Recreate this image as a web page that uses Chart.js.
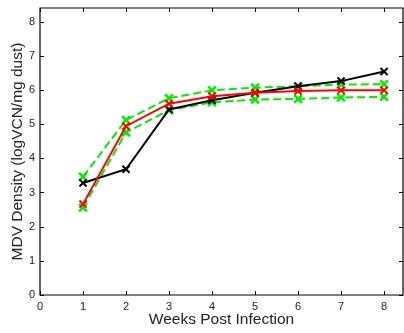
<!DOCTYPE html>
<html>
<head>
<meta charset="utf-8">
<script src="https://cdn.jsdelivr.net/npm/chart.js@4.4.1/dist/chart.umd.min.js"></script>
<style>
  html, body { margin: 0; padding: 0; background: #fff; }
  #wrap { width: 404px; height: 333px; }
</style>
</head>
<body>
<div id="wrap"><canvas id="mdvChart" width="404" height="333"></canvas></div>
<script>
// weeks post infection
var weeks = [1, 2, 3, 4, 5, 6, 7, 8];
// measured MDV density (black)
var observed = [3.28, 3.68, 5.43, 5.70, 5.92, 6.11, 6.26, 6.54];
// model fit (red)
var fitted = [2.66, 4.94, 5.60, 5.82, 5.92, 5.97, 5.99, 5.99];
// confidence bounds (green dashed)
var upperBound = [3.46, 5.12, 5.76, 5.99, 6.07, 6.11, 6.16, 6.17];
var lowerBound = [2.56, 4.76, 5.41, 5.64, 5.72, 5.74, 5.78, 5.80];
var xTicks = [0, 1, 2, 3, 4, 5, 6, 7, 8];
var yTicks = [0, 1, 2, 3, 4, 5, 6, 7, 8];

function toPoints(ys) {
    return weeks.map(function (w, i) { return { x: w, y: ys[i] }; });
}

Chart.defaults.font.family = "'Liberation Sans', Arial, sans-serif";
Chart.defaults.color = '#222';

// MATLAB style box with inward ticks on all four sides
var boxPlugin = {
    id: 'boxPlugin',
    afterDraw: function (chart) {
        var ctx = chart.ctx;
        var a = chart.chartArea;
        var xs = chart.scales.x, ys = chart.scales.y;
        var tl = 4;
        ctx.save();
        ctx.strokeStyle = '#000';
        ctx.lineWidth = 1.2;
        ctx.beginPath();
        ctx.rect(a.left, a.top, a.right - a.left, a.bottom - a.top);
        ctx.stroke();
        ctx.lineWidth = 1;
        ctx.beginPath();
        xTicks.forEach(function (v) {
            var px = Math.round(xs.getPixelForValue(v)) + 0.5;
            ctx.moveTo(px, a.bottom); ctx.lineTo(px, a.bottom - tl);
            ctx.moveTo(px, a.top); ctx.lineTo(px, a.top + tl);
        });
        yTicks.forEach(function (v) {
            var py = Math.round(ys.getPixelForValue(v)) + 0.5;
            ctx.moveTo(a.left, py); ctx.lineTo(a.left + tl, py);
            ctx.moveTo(a.right, py); ctx.lineTo(a.right - tl, py);
        });
        ctx.stroke();
        ctx.restore();
    }
};

var ctx = document.getElementById('mdvChart').getContext('2d');

var mdvChart = new Chart(ctx, {
    type: 'line',
    data: {
        datasets: [
            {
                label: 'Fit',
                data: toPoints(fitted),
                borderColor: '#ff0000',
                borderWidth: 2,
                pointStyle: 'crossRot',
                pointRadius: 5,
                pointBorderWidth: 2,
                pointBorderColor: '#ff0000',
                order: 1
            },
            {
                label: 'Observed',
                data: toPoints(observed),
                borderColor: '#000000',
                borderWidth: 2,
                pointStyle: 'crossRot',
                pointRadius: 5,
                pointBorderWidth: 2,
                pointBorderColor: '#000000',
                order: 2
            },
            {
                label: 'Upper',
                data: toPoints(upperBound),
                borderColor: '#00ee00',
                borderWidth: 2,
                borderDash: [8, 4],
                pointStyle: 'crossRot',
                pointRadius: 5.5,
                pointBorderWidth: 2.5,
                pointBorderColor: '#00ee00',
                order: 3
            },
            {
                label: 'Lower',
                data: toPoints(lowerBound),
                borderColor: '#00ee00',
                borderWidth: 2,
                borderDash: [8, 4],
                pointStyle: 'crossRot',
                pointRadius: 5.5,
                pointBorderWidth: 2.5,
                pointBorderColor: '#00ee00',
                order: 4
            }
        ]
    },
    options: {
        responsive: false,
        animation: false,
        layout: {
            autoPadding: false,
            padding: { left: 0, right: 1, top: 8, bottom: 0 }
        },
        plugins: {
            legend: { display: false },
            tooltip: { enabled: false }
        },
        scales: {
            x: {
                type: 'linear',
                min: 0,
                max: 8.44,
                afterBuildTicks: function (scale) {
                    scale.ticks = xTicks.map(function (v) { return { value: v }; });
                },
                afterFit: function (scale) {
                    scale.height = 38;
                    scale.paddingLeft = 0;
                    scale.paddingRight = 0;
                },
                grid: { display: false, drawTicks: false, tickLength: 0 },
                border: { display: false },
                ticks: { padding: 5, font: { size: 11 }, maxRotation: 0 },
                title: {
                    display: true,
                    text: 'Weeks Post Infection',
                    font: { size: 15.5 },
                    padding: { top: 4, bottom: 4 }
                }
            },
            y: {
                type: 'linear',
                min: 0,
                max: 8.4,
                afterBuildTicks: function (scale) {
                    scale.ticks = yTicks.map(function (v) { return { value: v }; });
                },
                afterFit: function (scale) {
                    scale.width = 40;
                    scale.paddingTop = 0;
                    scale.paddingBottom = 0;
                },
                grid: { display: false, drawTicks: false, tickLength: 0 },
                border: { display: false },
                ticks: { padding: 5, font: { size: 11 } },
                title: {
                    display: true,
                    text: 'MDV Density (logVCN/mg dust)',
                    font: { size: 15.5 },
                    padding: { top: 8, bottom: 0 }
                }
            }
        }
    },
    plugins: [boxPlugin]
});
</script>
</body>
</html>
